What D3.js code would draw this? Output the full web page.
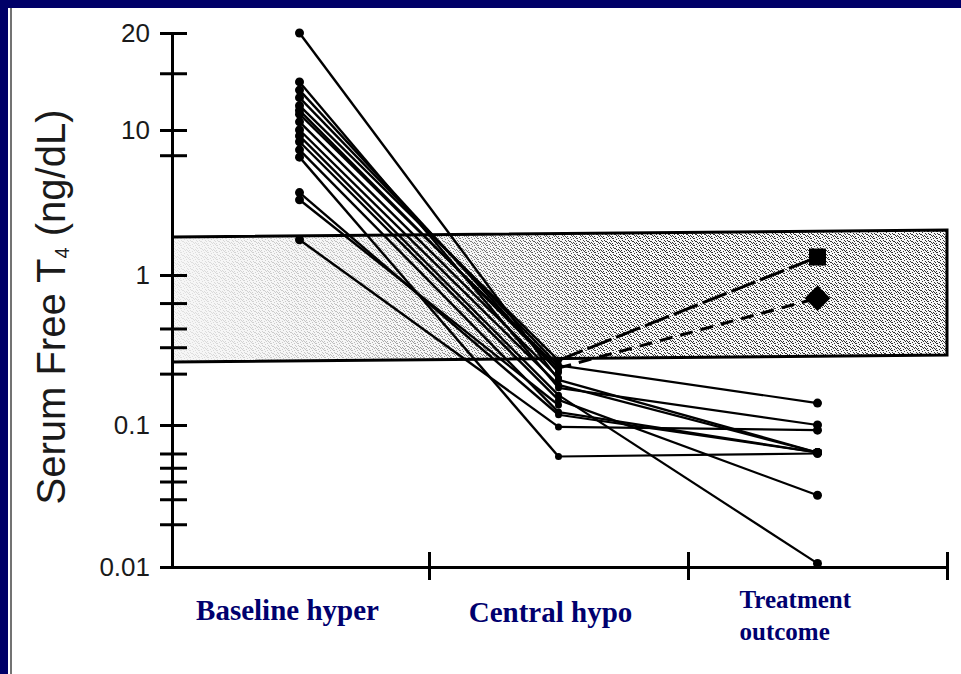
<!DOCTYPE html>
<html>
<head>
<meta charset="utf-8">
<script src="https://cdn.jsdelivr.net/npm/d3@7"></script>
<style>
  html, body { margin: 0; padding: 0; background: #000068; overflow: hidden; }
  svg { display: block; }
</style>
</head>
<body>
<div id="chart"></div>
<script>
// categories on the x axis
const categories = ['Baseline hyper', 'Central hypo', 'Treatment outcome'];

// serum free T4 for each patient (ng/dL), one entry per patient
const baseline    = [20,   14.1,  13.3,  12.6, 11.9, 11.2, 10.6,  10,    9.1,   8.3,   7.3,   6.5,  3.7,   3.3,   1.75,  11.5];
const centralHypo = [0.2,  0.177, 0.225, 0.25, 0.27, 0.24, 0.206, 0.185, 0.158, 0.147, 0.122, 0.06, 0.117, 0.136, 0.097, 0.23];
const outcome     = [0.064, 0.1,  null,  0.14, 1.33, 0.70, null,  0.064, 0.0106, 0.032, 0.064, 0.063, 0.064, null, 0.092, null];
const marker      = ['dot', 'dot', 'dot', 'dot', 'square', 'diamond', 'dot', 'dot', 'dot', 'dot', 'dot', 'dot', 'dot', 'dot', 'dot', 'dot'];

// normal range band (low / high) at left and right edge
const normalLow  = [0.263, 0.293];
const normalHigh = [1.83, 2.04];

// y ticks
const yMajor = [0.01, 0.1, 1, 10, 20];
const yMinor = [0.02, 0.03, 0.04, 0.05, 0.063, 0.22, 0.33, 0.44, 0.65, 6.7, 15];

const width = 961;
const height = 674;

const svg = d3.select('#chart').append('svg')
    .attr('width', width)
    .attr('height', height);

// рамка слайда
svg.append('rect').attr('width', width).attr('height', height).attr('fill', '#000068');
svg.append('rect').attr('x', 8).attr('y', 8).attr('width', width - 8).attr('height', height - 8).attr('fill', '#fff');
svg.append('line').attr('x1', 11).attr('x2', 11).attr('y1', 8).attr('y2', height)
    .style('stroke', '#444').style('stroke-width', 1.5);

// шкалы
const y = d3.scaleLog()
    .domain(yMajor)
    .range([567, 425, 275, 130, 33]);

const xBand = d3.scaleBand()
    .domain(categories)
    .range([170, 947]);
const x = c => xBand(c) + xBand.bandwidth() / 2;
const xEdge = d3.scaleLinear().domain([0, categories.length]).range(xBand.range());

// стипплинг для полосы нормы
const defs = svg.append('defs');
const pat = defs.append('pattern')
    .attr('id', 'stip')
    .attr('width', 9).attr('height', 7)
    .attr('patternUnits', 'userSpaceOnUse');
[[0,0],[1,0],[6,0],[4,1],[1,2],[7,2],[2,3],[3,3],[8,3],[4,4],[6,4],[0,5],[5,5],[3,6],[8,6],[7,5]]
    .forEach(p => pat.append('rect').attr('x', p[0]).attr('y', p[1]).attr('width', 1).attr('height', 1).attr('fill', '#000'));

const grad = defs.append('linearGradient')
    .attr('id', 'stipFade')
    .attr('gradientUnits', 'userSpaceOnUse')
    .attr('x1', 172).attr('x2', 620).attr('y1', 0).attr('y2', 0);
grad.append('stop').attr('offset', 0).attr('stop-color', '#fff').attr('stop-opacity', 0.1);
grad.append('stop').attr('offset', 0.4).attr('stop-color', '#fff').attr('stop-opacity', 0.3);
grad.append('stop').attr('offset', 1).attr('stop-color', '#fff').attr('stop-opacity', 1);

const mask = defs.append('mask').attr('id', 'bandMask');
mask.append('rect').attr('x', 0).attr('y', 0).attr('width', width).attr('height', height).attr('fill', 'url(#stipFade)');

const xL = 172, xR = xEdge(categories.length);
const bandPts = [
    [xL, y(normalHigh[0])], [xR, y(normalHigh[1])],
    [xR, y(normalLow[1])], [xL, y(normalLow[0])]
];
svg.append('polygon')
    .attr('points', bandPts.map(p => p.join(',')).join(' '))
    .attr('fill', '#f6f6f6');
svg.append('polygon')
    .attr('points', bandPts.map(p => p.join(',')).join(' '))
    .attr('fill', 'url(#stip)')
    .attr('mask', 'url(#bandMask)')
    .attr('opacity', 0.8);
svg.append('path')
    .attr('d', d3.line()([bandPts[0], bandPts[1], bandPts[2], bandPts[3]]))
    .attr('fill', 'none')
    .style('stroke', '#000')
    .style('stroke-width', 3);

// ось Y
svg.append('g')
    .attr('transform', `translate(172,0)`)
    .call(d3.axisLeft(y)
        .tickValues([...yMajor, ...yMinor])
        .tickSize(12)
        .tickSizeOuter(0)
        .tickPadding(10)
        .tickFormat(d => yMajor.includes(d) ? String(d) : ''))
    .call(g => g.select('.domain').style('stroke', '#000').style('stroke-width', 3))
    .call(g => g.selectAll('.tick line').attr('x1', -12).attr('x2', 15)
        .style('stroke', '#000').style('stroke-width', 3))
    .call(g => g.selectAll('.tick text')
        .style('font-family', '"Liberation Sans", Arial, sans-serif')
        .style('font-size', '26px')
        .style('fill', '#1a1a1a'));

// ось X
svg.append('g')
    .attr('transform', `translate(0,${y(0.01)})`)
    .call(d3.axisBottom(xEdge)
        .tickValues(d3.range(1, categories.length + 1))
        .tickFormat('')
        .tickSize(13)
        .tickSizeOuter(0))
    .call(g => g.select('.domain').style('stroke', '#000').style('stroke-width', 3))
    .call(g => g.selectAll('.tick line').attr('y1', -15)
        .style('stroke', '#000').style('stroke-width', 3));

// подпись оси Y
const yTitle = svg.append('text')
    .attr('transform', 'translate(65,307) rotate(-90)')
    .attr('text-anchor', 'middle')
    .style('font-family', '"Liberation Sans", Arial, sans-serif')
    .style('font-size', '40px')
    .style('fill', '#1a1a1a');
yTitle.append('tspan').text('Serum Free T');
yTitle.append('tspan').attr('dy', 4).style('font-size', '20px').text('4');
yTitle.append('tspan').attr('dy', -4).text(' (ng/dL)');

// подписи категорий
const catStyle = sel => sel
    .style('font-family', '"Liberation Serif", "Times New Roman", serif')
    .style('font-weight', 'bold')
    .style('fill', '#00006e');

svg.append('text').attr('x', x(categories[0]) - 12).attr('y', 620)
    .attr('text-anchor', 'middle').style('font-size', '29px').text(categories[0]).call(catStyle);
svg.append('text').attr('x', x(categories[1]) - 8).attr('y', 622)
    .attr('text-anchor', 'middle').style('font-size', '29px').text(categories[1]).call(catStyle);
const tLabel = svg.append('text').attr('x', x(categories[2]) - 78).attr('y', 608)
    .style('font-size', '25px').call(catStyle);
categories[2].split(' ').forEach((w, i) => {
    tLabel.append('tspan').attr('x', x(categories[2]) - 78).attr('dy', i ? 32 : 0).text(w);
});

// линии пациентов
const line = d3.line().x(d => x(d.cat)).y(d => y(d.v));
const dashFor = {dot: null, square: '26,5', diamond: '13,8'};

baseline.forEach((b, i) => {
    const p0 = {cat: categories[0], v: b};
    const p1 = {cat: categories[1], v: centralHypo[i]};
    svg.append('path').attr('d', line([p0, p1]))
        .attr('fill', 'none').style('stroke', '#000').style('stroke-width', 2.4);
    if (outcome[i] != null) {
        const p2 = {cat: categories[2], v: outcome[i]};
        svg.append('path').attr('d', line([p1, p2]))
            .attr('fill', 'none')
            .style('stroke', '#000')
            .style('stroke-width', marker[i] === 'dot' ? 2.2 : 3)
            .style('stroke-dasharray', dashFor[marker[i]]);
    }
});

// точки
svg.selectAll('.base-dot')
    .data(baseline)
    .enter()
    .append('circle')
    .attr('class', 'base-dot')
    .attr('cx', x(categories[0]))
    .attr('cy', d => y(d))
    .attr('r', 4.5)
    .attr('fill', '#000');

svg.selectAll('.central-dot')
    .data(centralHypo)
    .enter()
    .append('circle')
    .attr('class', 'central-dot')
    .attr('cx', x(categories[1]))
    .attr('cy', d => y(d))
    .attr('r', 3.5)
    .attr('fill', '#000');

const outs = outcome.map((v, i) => ({v, m: marker[i]})).filter(d => d.v != null);

svg.selectAll('.out-dot')
    .data(outs.filter(d => d.m === 'dot'))
    .enter()
    .append('circle')
    .attr('class', 'out-dot')
    .attr('cx', x(categories[2]))
    .attr('cy', d => y(d.v))
    .attr('r', 4.5)
    .attr('fill', '#000');

svg.selectAll('.out-sym')
    .data(outs.filter(d => d.m !== 'dot'))
    .enter()
    .append('path')
    .attr('class', 'out-sym')
    .attr('d', d => d3.symbol(d3.symbolSquare, d.m === 'square' ? 289 : 330)())
    .attr('transform', d => `translate(${x(categories[2])},${y(d.v)}) rotate(${d.m === 'diamond' ? 45 : 0})`)
    .attr('fill', '#000');
</script>
</body>
</html>
